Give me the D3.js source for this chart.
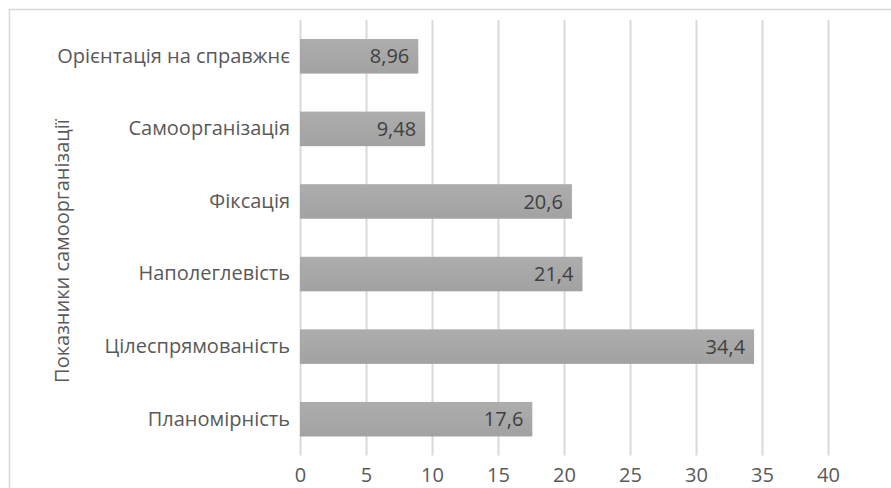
<!DOCTYPE html>
<html>
<head>
<meta charset="utf-8">
<script src="https://cdn.jsdelivr.net/npm/d3@7"></script>
<style>
  html, body { margin: 0; padding: 0; background: #fff; }
  svg { display: block; font-family: "Open Sans", sans-serif; }
</style>
</head>
<body>
<svg id="chart" width="891" height="488"></svg>
<script>
// Indicators of self-organisation, listed bottom to top
const categories = ["Планомірність", "Цілеспрямованість", "Наполеглевість", "Фіксація", "Самоорганізація", "Орієнтація на справжнє"];
const values = [17.6, 34.4, 21.4, 20.6, 9.48, 8.96];
const valueLabels = ["17,6", "34,4", "21,4", "20,6", "9,48", "8,96"];
const xTicks = [0, 5, 10, 15, 20, 25, 30, 35, 40];
const xTickLabels = ["0", "5", "10", "15", "20", "25", "30", "35", "40"];
const axisTitle = "Показники самоорганізації";

const svg = d3.select("#chart");
const plot = { left: 300, top: 20, bottom: 455.5 };

const x = d3.scaleLinear().domain([0, 45]).range([plot.left, plot.left + 45 * 13.2]);
const y = d3.scaleBand()
  .domain(categories.slice().reverse())
  .range([plot.top, plot.bottom])
  .paddingInner(0.524)
  .paddingOuter(0.262);

// Chart frame
svg.append("rect")
  .attr("x", 9.5).attr("y", 9.5)
  .attr("width", 1000).attr("height", 1000)
  .attr("fill", "#fff").attr("stroke", "#d9d9d9").attr("stroke-width", 1.5);

// Bar fill
const defs = svg.append("defs");
const grad = defs.append("linearGradient").attr("id", "barFill")
  .attr("x1", 0).attr("y1", 0).attr("x2", 0).attr("y2", 1);
grad.append("stop").attr("offset", "0%").attr("stop-color", "#adadad");
grad.append("stop").attr("offset", "100%").attr("stop-color", "#a2a2a2");

// Vertical gridlines
const xAxis = d3.axisBottom(x)
  .tickValues(xTicks)
  .tickSize(-(plot.bottom - plot.top))
  .tickFormat((d, i) => xTickLabels[i]);

const gx = svg.append("g")
  .attr("transform", `translate(0,${plot.bottom})`)
  .call(xAxis);
gx.select(".domain").remove();
gx.selectAll(".tick line").attr("stroke", "#d9d9d9").attr("stroke-width", 2);
gx.selectAll(".tick text")
  .attr("y", 12)
  .attr("dy", "0.71em")
  .attr("fill", "#595959")
  .attr("font-size", 20)
  .attr("font-family", "Open Sans, sans-serif");

// Category axis
const yAxis = d3.axisLeft(y).tickSize(0).tickPadding(10);
const gy = svg.append("g")
  .attr("transform", `translate(${plot.left},0)`)
  .call(yAxis);
gy.select(".domain").remove();
gy.selectAll(".tick text")
  .attr("fill", "#595959")
  .attr("font-size", 20)
  .attr("font-family", "Open Sans, sans-serif");

// Bars
const rows = categories.map((c, i) => ({ c, v: values[i], label: valueLabels[i] }));
svg.append("g").selectAll("rect")
  .data(rows)
  .join("rect")
  .attr("x", x(0))
  .attr("y", d => y(d.c))
  .attr("width", d => x(d.v) - x(0))
  .attr("height", y.bandwidth())
  .attr("fill", "url(#barFill)");

// Value labels, inside bar end
svg.append("g").selectAll("text")
  .data(rows)
  .join("text")
  .attr("x", d => x(d.v) - 9)
  .attr("y", d => y(d.c) + y.bandwidth() / 2)
  .attr("dy", "0.36em")
  .attr("text-anchor", "end")
  .attr("fill", "#404040")
  .attr("font-size", 20)
  .text(d => d.label);

// Axis title
svg.append("text")
  .attr("transform", "translate(62,251) rotate(-90)")
  .attr("dy", "0.36em")
  .attr("text-anchor", "middle")
  .attr("fill", "#595959")
  .attr("font-size", 20)
  .text(axisTitle);
</script>
</body>
</html>
